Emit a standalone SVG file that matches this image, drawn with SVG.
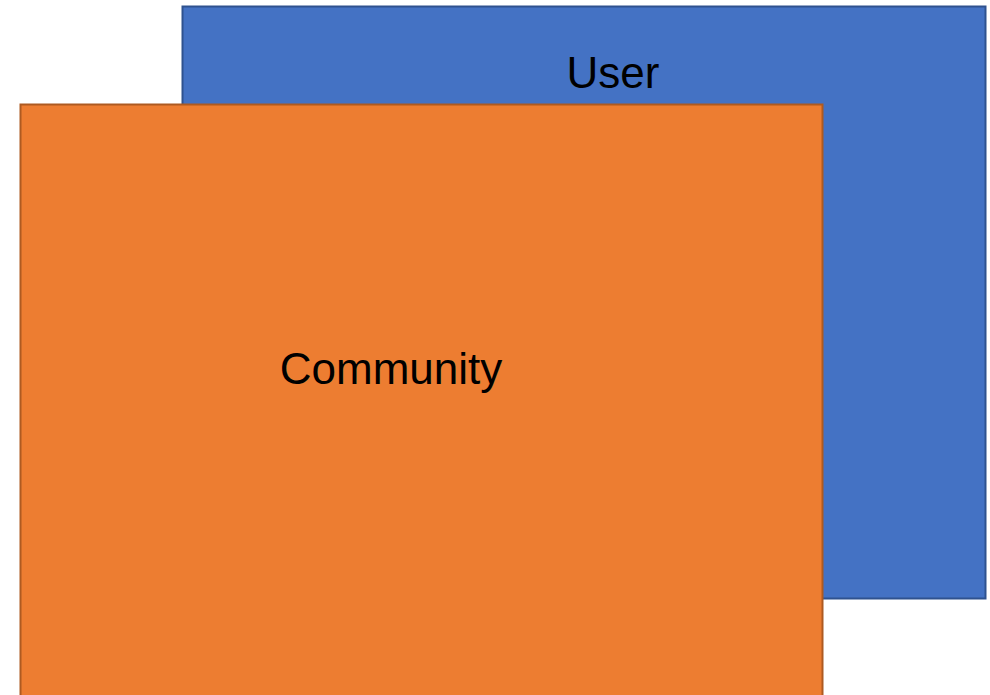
<svg xmlns="http://www.w3.org/2000/svg" width="990" height="695" viewBox="0 0 990 695">
<style>
.lbl{font-family:"Liberation Sans",Arial,sans-serif;font-size:44px;fill:#000;text-anchor:middle}
</style>
<rect width="990" height="695" fill="#fff"/>
<g id="user">
<rect x="182.5" y="6.5" width="803" height="592" fill="#4472C4" stroke="#2F528F" stroke-width="2"/>
<text class="lbl" x="613" y="88">User</text>
</g>
<g id="community">
<rect x="20.5" y="104.5" width="802" height="600" fill="#ED7D31" stroke="#AE5A21" stroke-width="2"/>
<text class="lbl" x="391" y="384">Community</text>
</g>
<g id="connectors"/>
</svg>
